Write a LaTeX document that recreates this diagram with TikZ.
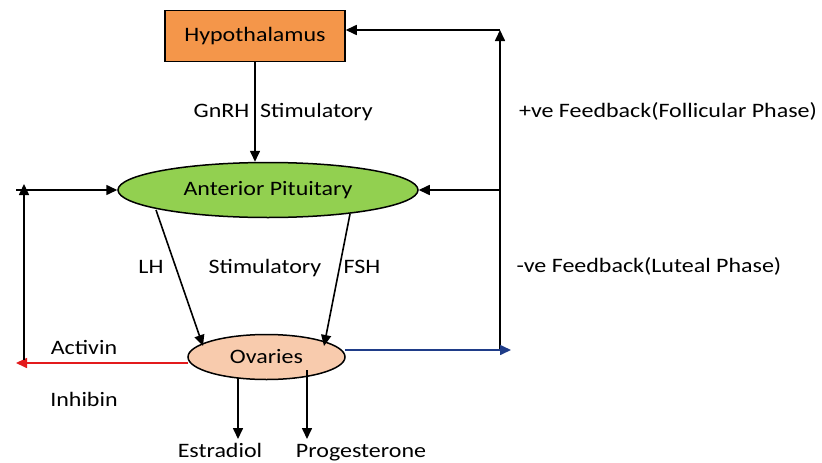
\documentclass[tikz,border=0pt]{standalone}
\usepackage{fontspec}
\setmainfont{Carlito}[FakeStretch=1.17]
\usetikzlibrary{shapes.geometric,arrows.meta}
\definecolor{hypo}{HTML}{F4964A}
\definecolor{pit}{HTML}{92D050}
\definecolor{ova}{HTML}{F8CBAD}
\definecolor{navy}{HTML}{1F3C88}
\definecolor{redline}{HTML}{E31A1C}
\begin{document}
\begin{tikzpicture}[x=1pt,y=-1pt,
  txt/.style={font=\fontsize{20.5}{23}\selectfont, inner sep=0pt, anchor=center, text height=14pt, text depth=4pt},
  arr/.style={line width=1.6pt, -{Triangle[length=11pt,width=10pt]}},
  ln/.style={line width=1.6pt}]
\useasboundingbox (0,0) rectangle (822,463);
\fill[white] (0,0) rectangle (822,463);
% nodes
\node[draw, line width=1.5pt, fill=hypo, minimum width=180pt, minimum height=51pt, inner sep=0pt,
  font=\fontsize{20.5}{23}\selectfont] (hyp) at (255,36) {Hypothalamus};
\node[ellipse, draw, line width=1.5pt, fill=pit, minimum width=300pt, minimum height=55pt, inner sep=0pt,
  font=\fontsize{20.5}{23}\selectfont] (ap) at (268,190) {Anterior Pituitary};
\node[ellipse, draw, line width=1.5pt, fill=ova, minimum width=157pt, minimum height=45pt, inner sep=0pt,
  font=\fontsize{20.5}{23}\selectfont] (ov) at (266.5,357) {Ovaries};
% coordinates
\coordinate (tr) at (500,30);
\coordinate (br) at (500,350);
\coordinate (mr) at (500,190);
\coordinate (bl) at (24,360);
\coordinate (tl) at (24,190);
\coordinate (tlx) at (16,190);
\coordinate (blue) at (511,350);
\coordinate (red) at (16,363);
\coordinate (es) at (238,439);
\coordinate (pr) at (307,439);
% connectors
\draw[arr] (hyp.south) -- (ap.north -| hyp.south);
\draw[ln] (br) -- (500,36);
\draw[arr] (br) -- (tr);
\draw[arr] (tr) -- (tr -| hyp.east);
\draw[arr] (mr) -- (ap.east);
\draw[arr, navy] (ov.east |- br) ++(-1,0) -- (blue);
\draw[arr, redline] (ov.west |- red) ++(1,0) -- (red);
\draw[arr] (bl) -- (24,184);
\draw[arr] (tlx) -- (ap.west);
\draw[arr] (156,210) -- (203,346);
\draw[arr] (350,214) -- (324,346);
\draw[arr] (238,378) -- (es);
\draw[arr] (307,370) -- (pr);
% labels
\node[txt] (gnrh) at (221.5,112) {GnRH};
\node[txt] (stim1) at (316.5,112) {Stimulatory};
\node[txt] (pos) at (668,112) {+ve Feedback(Follicular Phase)};
\node[txt] (lh) at (151,268) {LH};
\node[txt] (stim2) at (265,268) {Stimulatory};
\node[txt] (fsh) at (362,268) {FSH};
\node[txt] (neg) at (649,267) {-ve Feedback(Luteal Phase)};
\node[txt] (act) at (84,349) {Activin};
\node[txt] (inh) at (84,401) {Inhibin};
\node[txt] (estr) at (220,452) {Estradiol};
\node[txt] (prog) at (361,452) {Progesterone};
\end{tikzpicture}
\end{document}
